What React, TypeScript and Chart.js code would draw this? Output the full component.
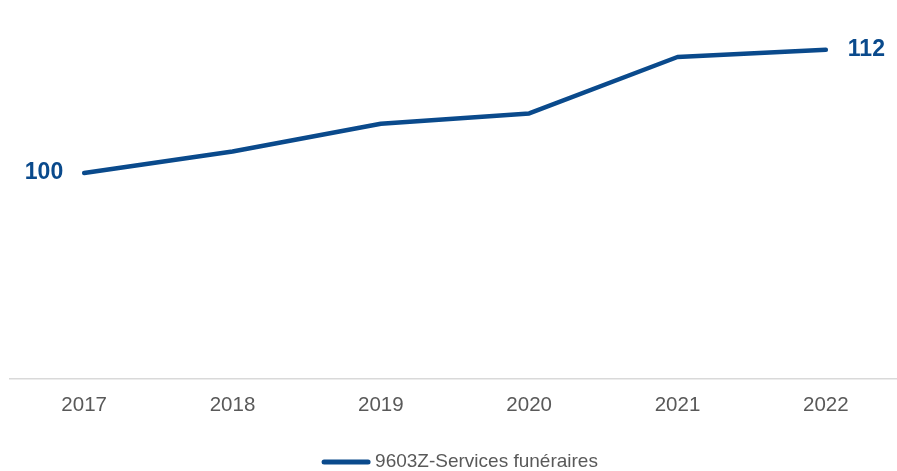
import React, { useEffect, useRef } from "react";
import { Chart, registerables } from "chart.js";

Chart.register(...registerables);

const categories = ["2017", "2018", "2019", "2020", "2021", "2022"];
const seriesName = "9603Z-Services funéraires";
const seriesValues = [100, 102.1, 104.8, 105.8, 111.3, 112];
const labelledIndexes = [0, 5];
const yMin = 80;
const yMax = 115;

const LINE_COLOR = "#0a4a8c";
const TEXT_GREY = "#595959";
const FONT = "'Liberation Sans', Arial, sans-serif";

const endLabelsPlugin = {
  id: "endLabels",
  afterDatasetsDraw(chart: any) {
    const ctx = chart.ctx;
    const meta = chart.getDatasetMeta(0);
    ctx.save();
    ctx.font = `bold 23px ${FONT}`;
    ctx.fillStyle = LINE_COLOR;
    ctx.textBaseline = "middle";
    labelledIndexes.forEach((i) => {
      const pt = meta.data[i];
      const txt = String(Math.round(seriesValues[i]));
      if (i === 0) {
        ctx.textAlign = "right";
        ctx.fillText(txt, pt.x - 21, pt.y);
      } else {
        ctx.textAlign = "left";
        ctx.fillText(txt, pt.x + 22, pt.y);
      }
    });
    ctx.restore();
  },
};

const legendPlugin = {
  id: "customLegend",
  afterDraw(chart: any) {
    const ctx = chart.ctx;
    ctx.save();
    ctx.font = `19px ${FONT}`;
    const tw = ctx.measureText(seriesName).width;
    const lineW = 48;
    const gap = 5;
    const total = lineW + gap + tw;
    const cx = 460;
    const x0 = cx - total / 2;
    const y = chart.height - 9;
    ctx.strokeStyle = LINE_COLOR;
    ctx.lineWidth = 5;
    ctx.lineCap = "round";
    ctx.beginPath();
    ctx.moveTo(x0 + 2, y);
    ctx.lineTo(x0 + lineW - 2, y);
    ctx.stroke();
    ctx.fillStyle = TEXT_GREY;
    ctx.textAlign = "left";
    ctx.textBaseline = "middle";
    ctx.fillText(seriesName, x0 + lineW + gap, y);
    ctx.restore();
  },
};

export default function App() {
  const canvasRef = useRef<HTMLCanvasElement | null>(null);

  useEffect(() => {
    if (!canvasRef.current) return;
    const chart = new Chart(canvasRef.current, {
      type: "line",
      data: {
        labels: categories,
        datasets: [
          {
            label: seriesName,
            data: seriesValues,
            borderColor: LINE_COLOR,
            backgroundColor: LINE_COLOR,
            borderWidth: 4.5,
            borderCapStyle: "round",
            borderJoinStyle: "round",
            pointRadius: 0,
            pointHoverRadius: 0,
            tension: 0,
            fill: false,
          },
        ],
      },
      options: {
        responsive: false,
        animation: false,
        layout: { padding: { left: 10, right: 0, top: 19, bottom: 38 } },
        plugins: {
          legend: { display: false },
          tooltip: { enabled: false },
        },
        scales: {
          x: {
            offset: true,
            grid: { display: false, drawTicks: false },
            border: { display: true, color: "#d9d9d9", width: 1.5 },
            ticks: {
              color: TEXT_GREY,
              font: { family: FONT, size: 20.5 },
              padding: 15,
              maxRotation: 0,
            },
          },
          y: {
            display: false,
            min: yMin,
            max: yMax,
          },
        },
      },
      plugins: [endLabelsPlugin, legendPlugin],
    });
    return () => chart.destroy();
  }, []);

  return (
    <div style={{ position: "absolute", left: 0, top: 0, width: 897, height: 471, overflow: "hidden", background: "#ffffff" }}>
      <canvas ref={canvasRef} width={900} height={471} style={{ display: "block" }} />
    </div>
  );
}
